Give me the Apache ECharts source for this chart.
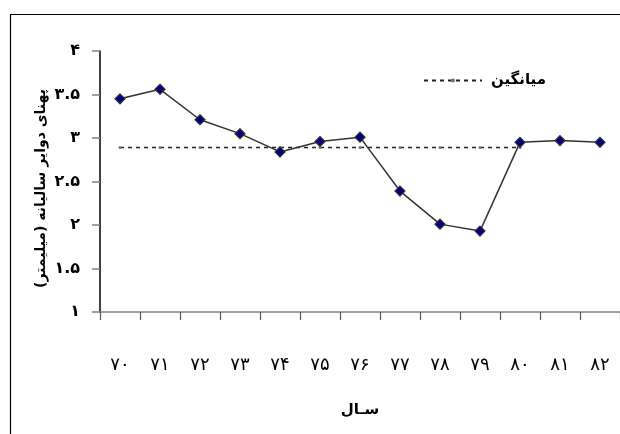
<!DOCTYPE html>
<html>
<head>
<meta charset="utf-8">
<script src="https://cdn.jsdelivr.net/npm/echarts@6/dist/echarts.min.js"></script>
<style>
  html, body { margin: 0; padding: 0; background: #fff; }
  #chart { width: 620px; height: 434px; }
</style>
</head>
<body>
<div id="chart"></div>
<script>
// Years (Persian calendar), shown with Persian digits
const years = ['۷۰', '۷۱', '۷۲', '۷۳', '۷۴', '۷۵', '۷۶', '۷۷', '۷۸', '۷۹', '۸۰', '۸۱', '۸۲'];
// Annual ring width (mm)
const ringWidth = [3.45, 3.56, 3.21, 3.05, 2.84, 2.96, 3.01, 2.39, 2.01, 1.93, 2.95, 2.97, 2.95];
// Mean ring width, drawn across 70 to 80
const meanWidth = [2.89, 2.89, 2.89, 2.89, 2.89, 2.89, 2.89, 2.89, 2.89, 2.89, 2.89, null, null];

const faDigits = '۰۱۲۳۴۵۶۷۸۹';
const toFa = v => String(v).replace(/[0-9]/g, d => faDigits[+d]);

const font = 'DejaVu Sans';
const chart = echarts.init(document.getElementById('chart'), null, { renderer: 'canvas' });
chart.setOption({
  animation: false,
  textStyle: { fontFamily: font },
  graphic: [{
    type: 'rect',
    left: 8, top: 12,
    shape: { width: 640, height: 440 },
    style: { fill: 'none', stroke: '#000', lineWidth: 1.2 },
    silent: true, z: -1
  }],
  legend: {
    left: 418, top: 68,
    itemWidth: 58, itemHeight: 5,
    itemGap: 6,
    data: ['میانگین'],
    textStyle: { fontFamily: font, fontSize: 15, fontWeight: 'bold', color: '#000', padding: [0, 0, 0, 4] }
  },
  grid: { left: 100, right: 0, top: 51, bottom: 122, containLabel: false },
  xAxis: {
    type: 'category',
    data: years,
    boundaryGap: true,
    name: 'سـال',
    nameLocation: 'middle',
    nameGap: 91,
    nameMoveOverlap: false,
    nameTextStyle: { fontFamily: font, fontSize: 15, fontWeight: 'bold', color: '#000' },
    axisLine: { lineStyle: { color: '#808080', width: 1.5 } },
    axisTick: { show: true, length: 8, lineStyle: { color: '#555', width: 1.2 } },
    axisLabel: { margin: 44, fontFamily: font, fontSize: 18, color: '#000' }
  },
  yAxis: {
    type: 'value',
    min: 1, max: 4, interval: 0.5,
    name: 'پهنای دوایر سالیانه (میلیمتر)',
    nameLocation: 'middle',
    nameGap: 52,
    nameMoveOverlap: false,
    nameRotate: 90,
    nameTextStyle: { fontFamily: font, fontSize: 14, fontWeight: 'bold', color: '#000', padding: [0, 14, 0, 0] },
    splitLine: { show: false },
    axisLine: { show: true, lineStyle: { color: '#000', width: 1.5 } },
    axisTick: { show: true, length: 8, lineStyle: { color: '#808080', width: 1.5 } },
    axisLabel: {
      margin: 20, fontFamily: font, fontSize: 16, fontWeight: 'bold', color: '#000',
      formatter: v => toFa(v)
    }
  },
  series: [
    {
      name: 'پهنای دوایر',
      type: 'line',
      data: ringWidth,
      symbol: 'diamond',
      symbolSize: 10,
      itemStyle: { color: '#000080', borderColor: '#333', borderWidth: 1.2 },
      lineStyle: { color: '#333', width: 1.5 },
      z: 3
    },
    {
      name: 'میانگین',
      type: 'line',
      data: meanWidth,
      symbol: 'circle',
      symbolSize: 3,
      itemStyle: { color: '#777' },
      lineStyle: { color: '#222', width: 1.5, type: [4, 4] },
      z: 2
    }
  ]
});
</script>
</body>
</html>
